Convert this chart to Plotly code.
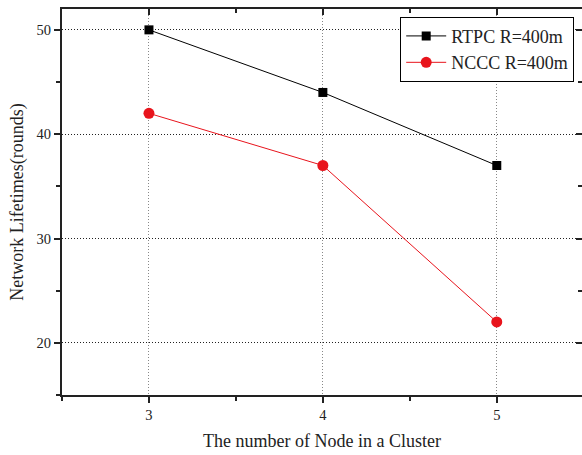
import plotly.graph_objects as go

nodes = [3, 4, 5]
rtpc = [50, 44, 37]
nccc = [42, 37, 22]
x_ticks = [3, 4, 5]
y_ticks = [20, 30, 40, 50]

FONT = "Liberation Serif"

fig = go.Figure()
fig.add_trace(go.Scatter(x=nodes, y=rtpc, mode="lines+markers", name="RTPC R=400m",
                         line=dict(color="black", width=1),
                         marker=dict(symbol="square", size=9, color="black")))
fig.add_trace(go.Scatter(x=nodes, y=nccc, mode="lines+markers", name="NCCC R=400m",
                         line=dict(color="#e8141c", width=1),
                         marker=dict(symbol="circle", size=11, color="#e8141c")))
# invisible trace to host mirrored (inward) top/right axes
fig.add_trace(go.Scatter(x=nodes, y=rtpc, mode="none", xaxis="x2", yaxis="y2",
                         showlegend=False, hoverinfo="skip"))

xr = [2.5, 5.49]
yr = [15, 52]

fig.update_layout(
    width=582, height=455,
    margin=dict(l=62, r=0, t=9, b=60),
    paper_bgcolor="white", plot_bgcolor="white",
    font=dict(family=FONT, color="#222", size=14),
    showlegend=True,
    legend=dict(x=0.985, y=0.98, xanchor="right", yanchor="top",
                bordercolor="black", borderwidth=1, bgcolor="white",
                font=dict(family=FONT, size=18, color="#222"),
                tracegroupgap=0, itemwidth=40),
    xaxis=dict(range=xr, tickvals=x_ticks, ticktext=[str(v) for v in x_ticks],
               ticks="outside", ticklen=6, tickwidth=2, tickcolor="#222",
               minor=dict(dtick=0.5, tick0=2.5, ticks="outside", ticklen=4, tickwidth=2, tickcolor="#222"),
               showline=True, linecolor="#222", linewidth=2,
               showgrid=True, gridcolor="#888", griddash="1px,2px", gridwidth=1,
               zeroline=False,
               title=dict(text="The number of Node in a Cluster", font=dict(family=FONT, size=18, color="#222"), standoff=12),
               tickfont=dict(family=FONT, size=14.5, color="#222")),
    yaxis=dict(range=yr, tickvals=y_ticks, ticktext=[str(v) for v in y_ticks],
               ticks="outside", ticklen=6, tickwidth=2, tickcolor="#222",
               minor=dict(dtick=5, tick0=15, ticks="outside", ticklen=4, tickwidth=2, tickcolor="#222"),
               showline=True, linecolor="#222", linewidth=2,
               showgrid=True, gridcolor="#222", griddash="1px,2px", gridwidth=1,
               zeroline=False,
               title=dict(text="Network Lifetimes(rounds)", font=dict(family=FONT, size=18, color="#222"), standoff=8),
               tickfont=dict(family=FONT, size=14.5, color="#222")),
    xaxis2=dict(overlaying="x", side="top", range=xr, tickvals=x_ticks,
                showticklabels=False, ticks="inside", ticklen=6, tickwidth=2, tickcolor="#222",
                minor=dict(dtick=0.5, tick0=2.5, ticks="inside", ticklen=4, tickwidth=2, tickcolor="#222"),
                showline=True, linecolor="#222", linewidth=2, showgrid=False, zeroline=False),
    yaxis2=dict(overlaying="y", side="right", range=yr, tickvals=y_ticks,
                showticklabels=False, ticks="inside", ticklen=6, tickwidth=2, tickcolor="#222",
                minor=dict(dtick=5, tick0=15, ticks="inside", ticklen=4, tickwidth=2, tickcolor="#222"),
                showline=True, linecolor="#222", linewidth=2, showgrid=False, zeroline=False),
)

fig.write_html("out.html")
